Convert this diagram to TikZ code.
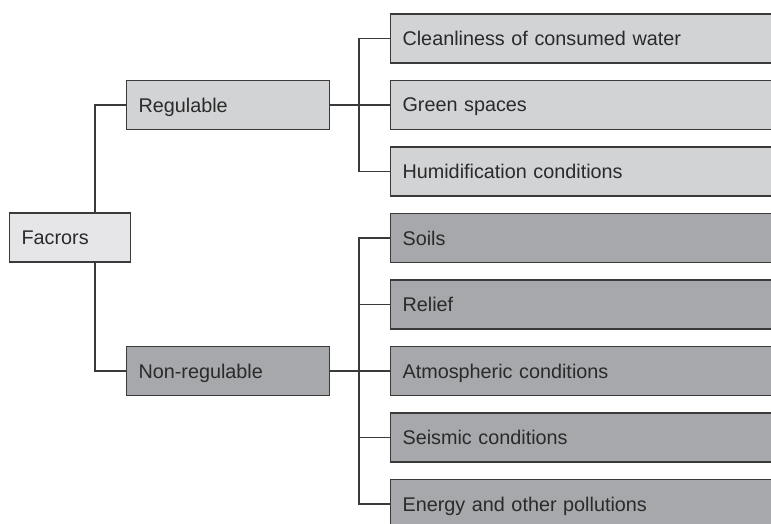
\documentclass[tikz,border=0pt]{standalone}
\usepackage{fontspec}
\setmainfont{Liberation Sans}
\usepackage{xcolor}
\usetikzlibrary{positioning}

\definecolor{rootfill}{HTML}{E6E6E8}
\definecolor{lightfill}{HTML}{D2D3D5}
\definecolor{darkfill}{HTML}{A7A8AB}
\definecolor{boxline}{HTML}{3A3A3A}
\definecolor{textgray}{HTML}{2A2A2A}

\begin{document}
\begin{tikzpicture}[x=0.5pt, y=-0.5pt, font=\fontsize{9.9}{12}\selectfont]
    % Define styles
    \tikzstyle{factor}=[draw=boxline, line width=0.55pt, text=textgray, anchor=west,
        minimum height=24.5pt, inner xsep=6pt, text depth=0pt, align=left]
    \tikzstyle{root} = [factor, fill=rootfill, text width=48.5pt]
    \tikzstyle{group light} = [factor, fill=lightfill, text width=89.5pt]
    \tikzstyle{group dark} = [factor, fill=darkfill, text width=89.5pt]
    \tikzstyle{item light} = [factor, fill=lightfill, text width=193pt]
    \tikzstyle{item dark} = [factor, fill=darkfill, text width=193pt]
    \tikzstyle{link} = [draw=boxline, line width=0.55pt]

    \useasboundingbox (0,0) rectangle (771,524);

    % Draw the root and the two groups
    \node[root] (fac) at (9,237.5) {Facrors};
    \node[group light] (reg) at (126,105) {Regulable};
    \node[group dark] (nonreg) at (126,371) {Non-regulable};

    % Draw the factors of each group
    \foreach \name/\y/\txt in {c1/38.5/Cleanliness of consumed water,
                               c2/105/Green spaces,
                               c3/171.5/Humidification conditions}
        \node[item light] (\name) at (390,\y) {\txt};
    \foreach \name/\y/\txt in {n1/238/Soils, n2/304.5/Relief,
                               n3/371/Atmospheric conditions,
                               n4/437.5/Seismic conditions,
                               n5/504/Energy and other pollutions}
        \node[item dark] (\name) at (390,\y) {\txt};

    % Draw the links
    \coordinate (fx) at (95,0);
    \coordinate (rx) at (359,0);
    \draw[link] (reg.west) -| (fac.north -| fx);
    \draw[link] (nonreg.west) -| (fac.south -| fx);
    \draw[link] (reg.east) -- (reg.east -| rx);
    \draw[link] (nonreg.east) -- (nonreg.east -| rx);
    \foreach \v in {c1,c2,c3}
        \draw[link] (reg.east -| rx) |- (\v.west);
    \foreach \v in {n1,n2,n3,n4,n5}
        \draw[link] (nonreg.east -| rx) |- (\v.west);

\end{tikzpicture}
\end{document}
